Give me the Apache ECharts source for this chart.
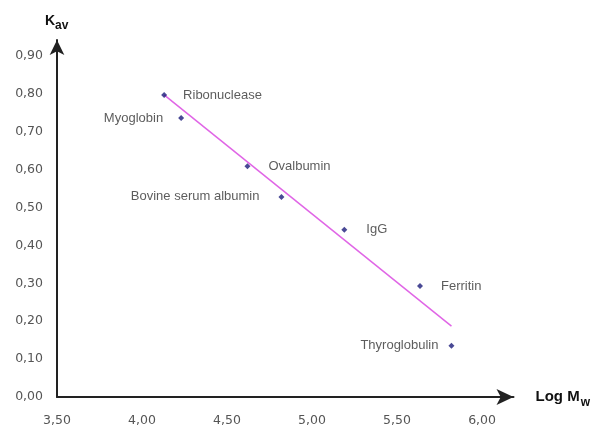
<!DOCTYPE html>
<html>
<head>
<meta charset="utf-8">
<script src="https://cdn.jsdelivr.net/npm/echarts@6/dist/echarts.min.js"></script>
<style>html,body{margin:0;padding:0;background:#fff;}#c{width:601px;height:428px;}</style>
</head>
<body>
<div id="c"></div>
<script>
// Data
var proteins = ['Ribonuclease', 'Myoglobin', 'Ovalbumin', 'Bovine serum albumin', 'IgG', 'Ferritin', 'Thyroglobulin'];
var logMw = [4.13, 4.23, 4.62, 4.82, 5.19, 5.635, 5.82];
var kav = [0.797, 0.736, 0.609, 0.528, 0.441, 0.293, 0.135];
var fitX = [4.13, 5.82];
var fitY = [0.797, 0.187];

// label placement (styling, kept apart from data)
var labelSide = ['right', 'left', 'right', 'left', 'right', 'right', 'left'];
var labelDist = [16, 15, 18, 19, 19, 18, 10];

function fmtY(v) {
  if (Math.abs(Math.round(v * 10) - v * 10) > 1e-6) return '';
  return v.toFixed(2).replace('.', ',');
}
function fmtX(v) {
  if (Math.abs(Math.round(v * 2) - v * 2) > 1e-6) return '';
  return v.toFixed(2).replace('.', ',');
}

var points = logMw.map(function (x, i) {
  return {
    value: [x, kav[i]],
    name: proteins[i],
    label: { position: labelSide[i], distance: labelDist[i] }
  };
});
var fit = fitX.map(function (x, i) { return [x, fitY[i]]; });

var chart = echarts.init(document.getElementById('c'), null, { renderer: 'canvas' });
chart.setOption({
  animation: false,
  backgroundColor: '#fff',
  grid: { left: 57, right: 87.5, top: 40, bottom: 31, containLabel: false },
  xAxis: {
    type: 'value', min: 3.5, max: 6.185, interval: 0.5,
    splitLine: { show: false },
    axisLine: { show: true, onZero: false, symbol: ['none', 'arrow'], symbolSize: [12, 17], lineStyle: { color: '#222', width: 2 } },
    axisTick: { show: false },
    axisLabel: { formatter: fmtX, color: '#555', fontFamily: 'DejaVu Sans', fontSize: 12.5, margin: 17, showMaxLabel: false },
    name: '{m|Log M}{s|w}',
    nameLocation: 'end',
    nameGap: 22,
    nameTextStyle: {
      rich: {
        m: { fontFamily: 'Liberation Sans', fontWeight: 'bold', fontSize: 15, color: '#111' },
        s: { fontFamily: 'Liberation Sans', fontWeight: 'bold', fontSize: 12, color: '#111', padding: [12, 0, 0, 1] }
      }
    }
  },
  yAxis: {
    type: 'value', min: 0, max: 0.942, interval: 0.1,
    splitLine: { show: false },
    axisLine: { show: true, onZero: false, symbol: ['none', 'arrow'], symbolSize: [11, 15], lineStyle: { color: '#222', width: 2 } },
    axisTick: { show: false },
    axisLabel: { formatter: fmtY, color: '#555', fontFamily: 'DejaVu Sans', fontSize: 12.5, margin: 14, showMaxLabel: false, padding: [5, 0, 0, 0] },
    name: '{k|K}{s|av}',
    nameLocation: 'end',
    nameGap: 8,
    nameTextStyle: {
      align: 'left',
      padding: [0, 0, 0, -12],
      rich: {
        k: { fontFamily: 'Liberation Sans', fontWeight: 'bold', fontSize: 14, color: '#111' },
        s: { fontFamily: 'Liberation Sans', fontWeight: 'bold', fontSize: 12, color: '#111', padding: [10, 0, 0, 0] }
      }
    }
  },
  series: [
    {
      type: 'line',
      data: fit,
      symbol: 'none',
      lineStyle: { color: '#e066e6', width: 1.5 },
      z: 2
    },
    {
      type: 'scatter',
      data: points,
      symbol: 'diamond',
      symbolSize: 6,
      itemStyle: { color: '#1c1c7a' },
      label: {
        show: true,
        formatter: '{b}',
        color: '#333',
        fontFamily: 'Liberation Sans',
        fontSize: 13
      },
      z: 3
    }
  ]
});
</script>
</body>
</html>
